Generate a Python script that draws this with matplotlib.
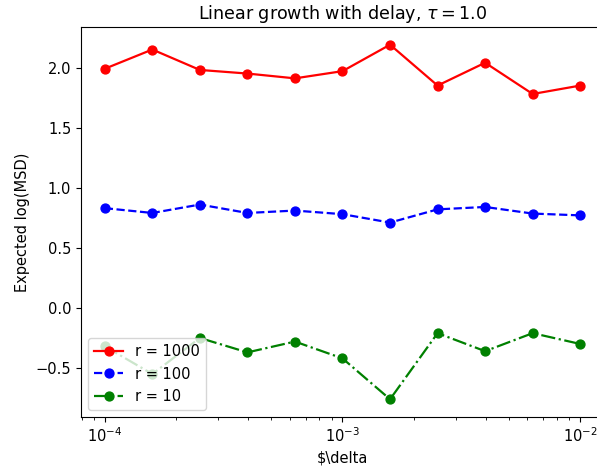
import numpy as np
import matplotlib
matplotlib.use("Agg")
import matplotlib.pyplot as plt

deltas = np.logspace(-4, -2, 11)
msd_r1000 = [1.99, 2.15, 1.98, 1.95, 1.91, 1.97, 2.19, 1.85, 2.04, 1.78, 1.85]
msd_r100 = [0.83, 0.79, 0.86, 0.79, 0.81, 0.78, 0.71, 0.82, 0.84, 0.785, 0.77]
msd_r10 = [-0.32, -0.55, -0.25, -0.37, -0.28, -0.42, -0.76, -0.21, -0.36, -0.21, -0.30]

# reference looks rendered a touch larger than default, bump sizes ~5%
plt.rcParams["font.size"] = 10.5
plt.rcParams["lines.markersize"] = 6.4
plt.rcParams["lines.linewidth"] = 1.6

fig = plt.figure(figsize=(5.97, 4.70), dpi=100)
ax = fig.add_axes([0.1357, 0.1128, 0.876, 0.8298])

ax.plot(deltas, msd_r1000, "o-", color="red", label="r = 1000")
ax.plot(deltas, msd_r100, "o--", color="blue", label="r = 100")
ax.plot(deltas, msd_r10, "o-.", color="green", label="r = 10")

ax.set_xscale("log")
ax.set_xlabel(r"\$\delta")
ax.set_ylabel("Expected log(MSD)")
ax.set_title(r"Linear growth with delay, $\tau = 1.0$")
ax.legend(loc="lower left")

fig.savefig("out.png", dpi=100)
